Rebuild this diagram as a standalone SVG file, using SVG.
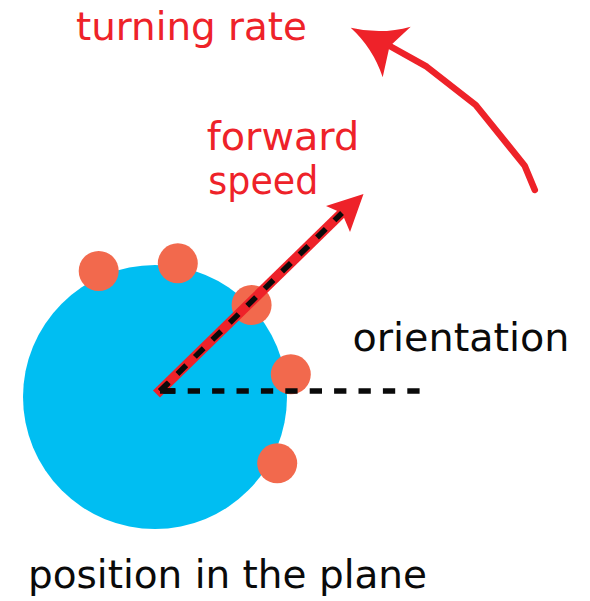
<svg xmlns="http://www.w3.org/2000/svg" width="590" height="601" viewBox="0 0 590 601">
  <style>
    .lbl { font-family: "DejaVu Sans", "Liberation Sans", sans-serif; font-size: 39px; }
    .red { fill: #EE2229; }
    .blk { fill: #0A0A0A; }
    .dot { fill: #F2694D; }
    .dash { fill: none; stroke: #0A0A0A; stroke-width: 5.5; stroke-dasharray: 12.3 12.1; }
  </style>
  <rect width="590" height="601" fill="#ffffff"/>

  <g id="body">
    <circle cx="155" cy="397" r="132" fill="#00BEF2"/>
  </g>
  <g id="dot1"><circle class="dot" cx="98.7" cy="271" r="20"/></g>
  <g id="dot2"><circle class="dot" cx="177.8" cy="263.3" r="20"/></g>
  <g id="dot3"><circle class="dot" cx="251.6" cy="305" r="20"/></g>
  <g id="dot4"><circle class="dot" cx="290.8" cy="374.3" r="20"/></g>
  <g id="dot5"><circle class="dot" cx="277.2" cy="463.3" r="20"/></g>

  <g id="connectors">
    <path d="M 156.5 394 L 345.5 209.5" fill="none" stroke="#EE2229" stroke-width="10"/>
    <polygon points="363.5,194 326,206 342,213 350,232" fill="#EE2229"/>
    <path class="dash" d="M 160 391 L 342 213"/>
    <path class="dash" d="M 163.3 391 H 420"/>
    <path d="M 160 391 H 175 M 160 391 L 168 383.2" fill="none" stroke="#0A0A0A" stroke-width="5.5"/>
    <polyline points="534.8,190 524.7,165.7 475.7,105 426.7,66.7 387,44.5" fill="none" stroke="#EE2229" stroke-width="6.5" stroke-linejoin="round" stroke-linecap="round"/>
    <path d="M 350.7 27.7 Q 381 35 410.7 26.7 L 389.5 46.5 L 382.7 77.3 Q 373 48 350.7 27.7 Z" fill="#EE2229"/>
  </g>

  <g id="label-turning"><text class="lbl red" x="76" y="40" textLength="231" lengthAdjust="spacingAndGlyphs">turning rate</text></g>
  <g id="label-forward">
    <text class="lbl red" x="206.7" y="149.5" textLength="152.6" lengthAdjust="spacingAndGlyphs">forward</text>
    <text class="lbl red" x="208.3" y="193.5" textLength="110" lengthAdjust="spacingAndGlyphs">speed</text>
  </g>
  <g id="label-orientation"><text class="lbl blk" x="352.5" y="350.5" textLength="217" lengthAdjust="spacingAndGlyphs">orientation</text></g>
  <g id="label-position"><text class="lbl blk" x="28" y="588" textLength="399" lengthAdjust="spacingAndGlyphs">position in the plane</text></g>
</svg>
